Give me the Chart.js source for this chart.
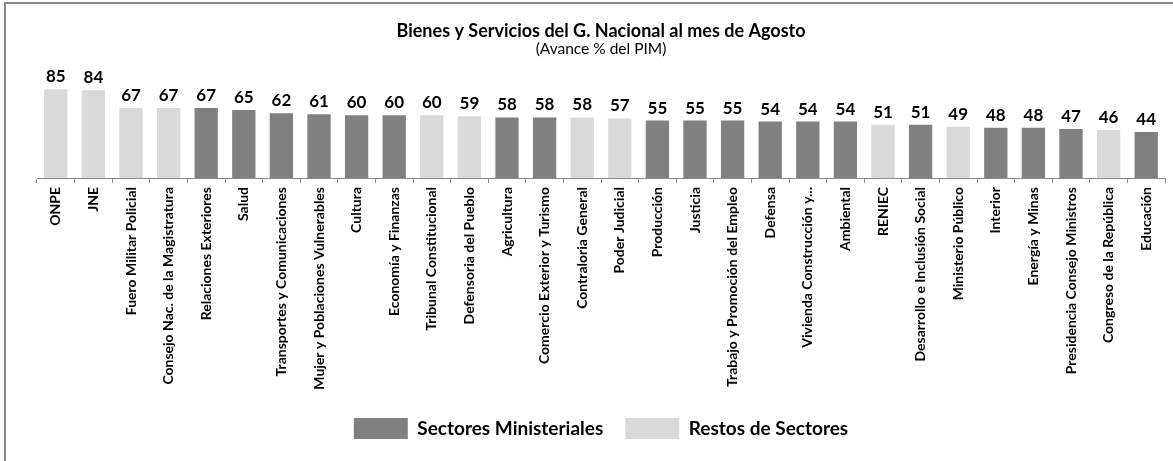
<!DOCTYPE html>
<html>
<head>
<meta charset="utf-8">
<script src="https://cdn.jsdelivr.net/npm/chart.js@4"></script>
<style>
  html, body { margin: 0; padding: 0; background: #fff; }
  #frame { position: absolute; left: 4px; top: 2px; width: 1169px; height: 459px;
           border-left: 2px solid #8a8a8a; border-top: 2px solid #8a8a8a; box-sizing: border-box; }
  #wrap { position: absolute; left: 2px; top: 2px; right: 0; bottom: 0; }
</style>
</head>
<body>
<div id="frame"><div id="wrap"><canvas id="c"></canvas></div></div>
<script>
const categories = [
  "ONPE", "JNE", "Fuero Militar Policial", "Consejo Nac. de la Magistratura",
  "Relaciones Exteriores", "Salud", "Transportes y Comunicaciones",
  "Mujer y Poblaciones Vulnerables", "Cultura", "Economía y Finanzas",
  "Tribunal Constitucional", "Defensoria del Pueblo", "Agricultura",
  "Comercio Exterior y Turismo", "Contraloria General", "Poder Judicial",
  "Producción", "Justicia", "Trabajo y Promoción del Empleo", "Defensa",
  "Vivienda Construcción y...", "Ambiental", "RENIEC",
  "Desarrollo e Inclusión Social", "Ministerio Público", "Interior",
  "Energía y Minas", "Presidencia Consejo Ministros", "Congreso de la República",
  "Educación"
];
const values = [85, 84, 67, 67, 67, 65, 62, 61, 60, 60, 60, 59, 58, 58, 58, 57,
  55, 55, 55, 54, 54, 54, 51, 51, 49, 48, 48, 47, 46, 44];
// "M" = Sectores Ministeriales, "R" = Restos de Sectores
const groups = ["R", "R", "R", "R", "M", "M", "M", "M", "M", "M", "R", "R", "M",
  "M", "R", "R", "M", "M", "M", "M", "M", "M", "R", "M", "R", "M", "M", "M", "R", "M"];
const seriesNames = ["Sectores Ministeriales", "Restos de Sectores"];
const titleText = "Bienes y Servicios del G. Nacional al mes de Agosto";
const subtitleText = "(Avance % del PIM)";

const DARK = "#808080", LIGHT = "#d9d9d9";
const FONT = "Lato, 'Open Sans', sans-serif";

const valueLabels = {
  id: "valueLabels",
  afterDatasetsDraw(chart) {
    const ctx = chart.ctx;
    const meta = chart.getDatasetMeta(0);
    ctx.save();
    ctx.font = "bold 17px " + FONT;
    ctx.fillStyle = "#000";
    ctx.textAlign = "center";
    ctx.textBaseline = "alphabetic";
    meta.data.forEach((bar, i) => {
      ctx.fillText(String(values[i]), bar.x, bar.y - 7);
    });
    ctx.restore();
  }
};

new Chart(document.getElementById("c"), {
  type: "bar",
  data: {
    labels: categories,
    datasets: [{
      data: values,
      backgroundColor: groups.map(g => g === "M" ? DARK : LIGHT),
      borderWidth: 0,
      categoryPercentage: 1,
      barPercentage: 0.62
    }]
  },
  options: {
    responsive: true,
    maintainAspectRatio: false,
    animation: false,
    layout: { padding: { left: 29, right: 8, top: 0, bottom: 12 } },
    plugins: {
      title: {
        display: true, text: titleText, color: "#000",
        font: { family: FONT, size: 18, weight: "bold", lineHeight: 1 },
        padding: { top: 16, bottom: 1 }
      },
      subtitle: {
        display: true, text: subtitleText, color: "#000",
        font: { family: FONT, size: 15.5, weight: "normal", lineHeight: 1 },
        padding: { top: 0, bottom: 17 }
      },
      legend: {
        display: true, position: "bottom",
        labels: {
          boxWidth: 54, boxHeight: 21, padding: 22, color: "#000",
          font: { family: FONT, size: 19, weight: "bold" },
          generateLabels: () => [
            { text: seriesNames[0], fillStyle: DARK, strokeStyle: DARK, lineWidth: 0, datasetIndex: 0 },
            { text: seriesNames[1], fillStyle: LIGHT, strokeStyle: LIGHT, lineWidth: 0, datasetIndex: 0 }
          ]
        },
        onClick: () => {}
      },
      tooltip: { enabled: false }
    },
    scales: {
      x: {
        afterFit: (scale) => { scale.height = 218; },
        grid: { display: true, offset: true, drawOnChartArea: false, drawTicks: true,
                tickLength: 5, color: "#8a8a8a" },
        border: { display: true, color: "#8a8a8a", width: 1 },
        ticks: {
          color: "#000", autoSkip: false, minRotation: 90, maxRotation: 90, padding: 4,
          font: { family: FONT, size: 14, weight: "bold" }
        }
      },
      y: { display: false, min: 0, max: 100 }
    }
  },
  plugins: [valueLabels]
});
</script>
</body>
</html>
